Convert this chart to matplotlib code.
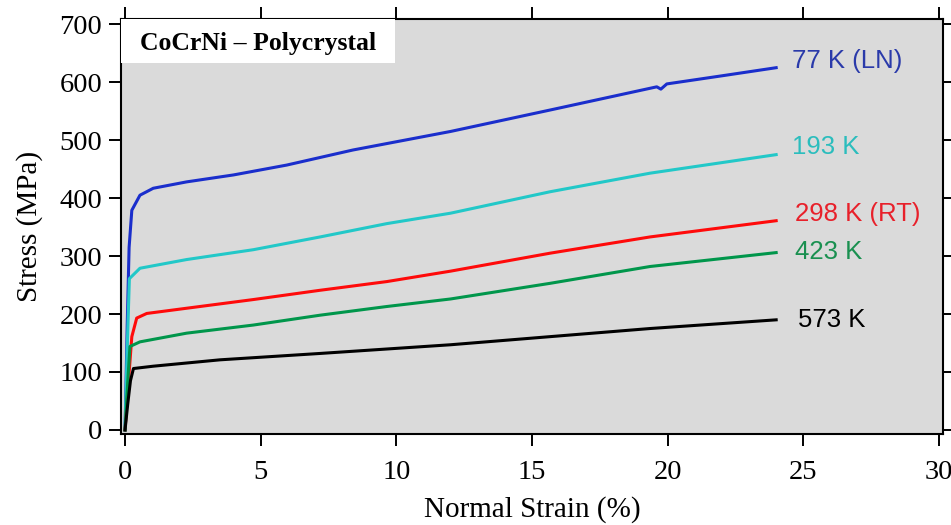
import matplotlib.pyplot as plt
from matplotlib.patches import Rectangle

# stress-strain curves (strain %, stress MPa)
strain_77 = [0, 0.08, 0.15, 0.25, 0.55, 1.04, 2.27, 4.0, 5.96, 8.4, 12.0, 15.67, 19.6, 19.75, 19.97, 22.0, 24.0]
stress_77 = [0, 180, 315, 379, 405, 417, 428, 440, 457, 483, 515, 552, 592, 588, 597, 611, 625]

strain_193 = [0, 0.08, 0.16, 0.55, 2.27, 4.73, 7.19, 9.65, 12.0, 15.67, 19.35, 24.0]
stress_193 = [0, 140, 261, 279, 294, 311, 333, 356, 374, 411, 443, 475]

strain_298 = [0, 0.12, 0.25, 0.43, 0.8, 2.27, 4.73, 7.19, 9.65, 12.0, 15.67, 19.35, 24.0]
stress_298 = [0, 80, 161, 193, 201, 210, 225, 241, 256, 274, 305, 333, 361]

strain_423 = [0, 0.09, 0.18, 0.55, 2.27, 4.73, 7.19, 9.65, 12.0, 15.67, 19.35, 24.0]
stress_423 = [0, 75, 144, 152, 167, 181, 198, 213, 226, 253, 282, 306]

strain_573 = [0, 0.1, 0.2, 0.31, 1.04, 3.5, 7.19, 12.0, 15.67, 19.35, 24.0]
stress_573 = [0, 45, 85, 106, 110, 121, 132, 147, 161, 175, 190]

labels = ["77 K (LN)", "193 K", "298 K (RT)", "423 K", "573 K"]
label_x = [24.6, 24.6, 24.7, 24.7, 24.8]
label_y = [636, 488, 372, 307, 190]
line_colors = ["#1a2ecc", "#22c8c8", "#ff0a0a", "#00964b", "#000000"]
text_colors = ["#2a3aaa", "#2bbdbd", "#e8202a", "#1a9050", "#000000"]

xticks = [0, 5, 10, 15, 20, 25, 30]
yticks = [0, 100, 200, 300, 400, 500, 600, 700]

curves = [(strain_77, stress_77), (strain_193, stress_193), (strain_298, stress_298),
          (strain_423, stress_423), (strain_573, stress_573)]

fig = plt.figure(figsize=(9.51, 5.25), dpi=100)
ax = fig.add_axes([0.1272, 0.1733, 0.8644, 0.7905])
ax.set_facecolor("#dadada")

for (sx, sy), c in zip(curves, line_colors):
    ax.plot(sx, sy, color=c, lw=2.2, solid_joinstyle="round")

for t, x, y, c in zip(labels, label_x, label_y, text_colors):
    ax.text(x, y, t, color=c, fontsize=18.5, family="Liberation Sans", va="center", ha="left")

ax.set_xlim(-0.15, 30.15)
ax.set_ylim(-7, 709)
ax.set_xticks(xticks)
ax.set_yticks(yticks)

serif = "Liberation Serif"
ax.tick_params(direction="out", length=8.5, width=1.4, color="black",
               top=True, right=True, labelsize=20.5)
ax.tick_params(axis="x", pad=10)
ax.tick_params(axis="y", pad=5)
for lab in ax.get_xticklabels() + ax.get_yticklabels():
    lab.set_family(serif)
for s in ax.spines.values():
    s.set_linewidth(1.5)

ax.set_xlabel("Normal Strain (%)", fontsize=21, family=serif, labelpad=8)
ax.set_ylabel("Stress (MPa)", fontsize=21, family=serif, labelpad=12)

# white title box in the top-left corner
ax.add_patch(Rectangle((0, 0.894), 0.333, 0.106, transform=ax.transAxes,
                       facecolor="white", edgecolor="none", zorder=3))
ax.text(0.167, 0.942, "CoCrNi \u2013 Polycrystal", transform=ax.transAxes,
        fontsize=18.5, family=serif, weight="bold", ha="center", va="center", zorder=4)

fig.savefig("out.png", dpi=100)
